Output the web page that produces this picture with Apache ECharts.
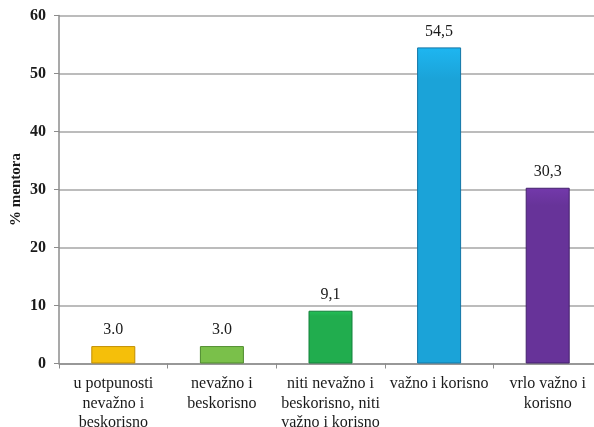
<!DOCTYPE html>
<html>
<head>
<meta charset="utf-8">
<script src="https://cdn.jsdelivr.net/npm/echarts@6/dist/echarts.min.js"></script>
<style>
  html, body { margin: 0; padding: 0; background: #ffffff; }
  #chart { width: 594px; height: 427px; }
</style>
</head>
<body>
<div id="chart"></div>
<script>
// categories and values
var categories = [
  'u potpunosti\nnevažno i\nbeskorisno',
  'nevažno i\nbeskorisno',
  'niti nevažno i\nbeskorisno, niti\nvažno i korisno',
  'važno i korisno',
  'vrlo važno i\nkorisno'
];
var values = [3.0, 3.0, 9.1, 54.5, 30.3];
var valueLabels = ['3.0', '3.0', '9,1', '54,5', '30,3'];
var barColors = ['#f5bf0a', '#7ac04a', '#21ad4e', '#1ba3d8', '#673399'];
var barBorders = ['#c08d00', '#4e8a2d', '#13803a', '#1276a6', '#43206c'];
var yTicks = [0, 10, 20, 30, 40, 50, 60];

var font = '"Liberation Serif", "DejaVu Serif", serif';

var chart = echarts.init(document.getElementById('chart'), null, { renderer: 'canvas' });

var data = values.map(function (v, i) {
  return {
    value: v,
    itemStyle: {
      color: new echarts.graphic.LinearGradient(0, 0, 0, 1, [
        { offset: 0, color: echarts.color.lift(barColors[i], -0.12) },
        { offset: 0.1, color: barColors[i] },
        { offset: 1, color: barColors[i] }
      ]),
      borderColor: barBorders[i],
      borderWidth: 1
    },
    label: { formatter: valueLabels[i] }
  };
});

chart.setOption({
  animation: false,
  grid: { left: 59, width: 543, top: 15.5, bottom: 63.5, outerBoundsMode: 'none', containLabel: false },
  xAxis: {
    type: 'category',
    data: categories,
    axisLine: { lineStyle: { color: '#8c8c8c', width: 1.5 } },
    axisTick: { show: true, length: 5, lineStyle: { color: '#8c8c8c' } },
    axisLabel: {
      interval: 0,
      color: '#1a1a1a',
      fontFamily: font,
      fontSize: 16,
      lineHeight: 19.5,
      margin: 11
    }
  },
  yAxis: {
    type: 'value',
    min: yTicks[0],
    max: yTicks[yTicks.length - 1],
    interval: 10,
    name: '% mentora',
    nameLocation: 'middle',
    nameGap: 35,
    nameMoveOverlap: false,
    nameTextStyle: { fontFamily: font, fontSize: 15, fontWeight: 'bold', color: '#1a1a1a' },
    axisLine: { show: true, lineStyle: { color: '#8c8c8c', width: 1.5 } },
    axisTick: { show: true, length: 5, lineStyle: { color: '#8c8c8c' } },
    axisLabel: { color: '#1a1a1a', fontFamily: font, fontSize: 16, fontWeight: 'bold', margin: 13 },
    splitLine: { lineStyle: { color: '#a6a6a6', width: 1.5 } }
  },
  series: [
    {
      type: 'bar',
      barWidth: 44,
      data: data,
      label: {
        show: true,
        position: 'top',
        distance: 8,
        color: '#1a1a1a',
        fontFamily: font,
        fontSize: 16
      }
    }
  ]
});
</script>
</body>
</html>
